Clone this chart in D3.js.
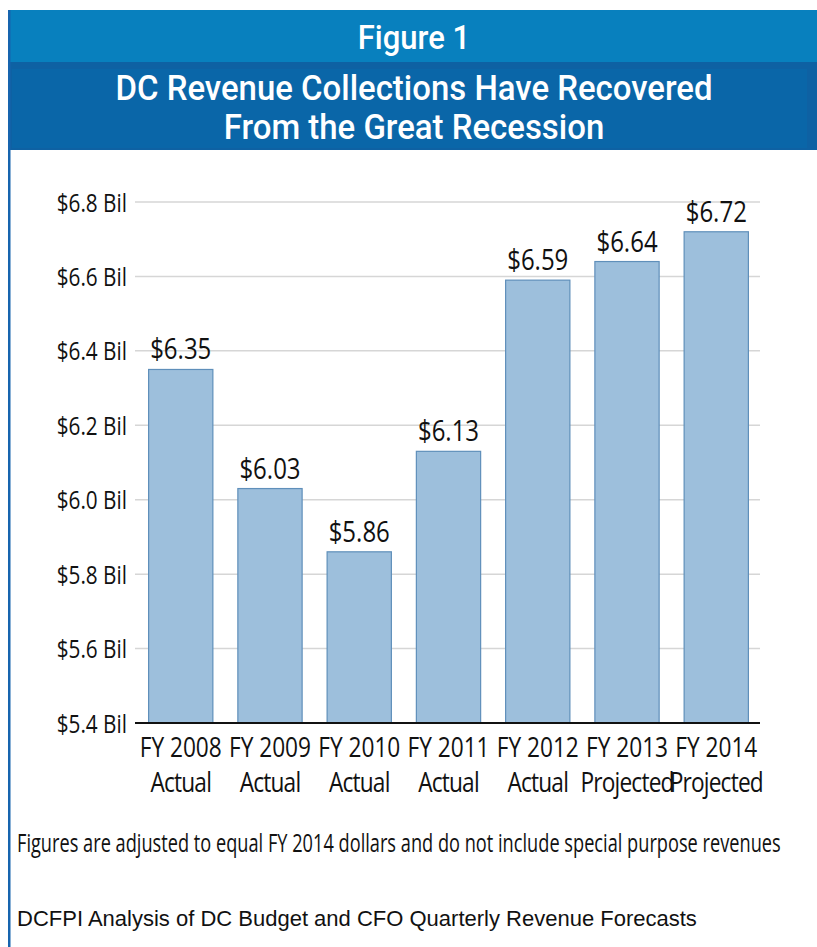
<!DOCTYPE html>
<html>
<head>
<meta charset="utf-8">
<script src="https://cdn.jsdelivr.net/npm/d3@7"></script>
<style>
  html, body { margin: 0; padding: 0; background: #ffffff; }
  svg { display: block; }
</style>
</head>
<body>
<svg id="chart" width="817" height="947"></svg>
<script>
// ---- data ----
const years = ["FY 2008", "FY 2009", "FY 2010", "FY 2011", "FY 2012", "FY 2013", "FY 2014"];
const status = ["Actual", "Actual", "Actual", "Actual", "Actual", "Projected", "Projected"];
const revenue = [6.35, 6.03, 5.86, 6.13, 6.59, 6.64, 6.72];
const yTicks = [5.4, 5.6, 5.8, 6.0, 6.2, 6.4, 6.6, 6.8];
const figureLabel = "Figure 1";
const titleLines = ["DC Revenue Collections Have Recovered", "From the Great Recession"];
const footnote = "Figures are adjusted to equal FY 2014 dollars and do not include special purpose revenues";
const source = "DCFPI Analysis of DC Budget and CFO Quarterly Revenue Forecasts";

const svg = d3.select("#chart");
const W = 817, H = 947;
const humanist = "'Open Sans', 'Noto Sans', sans-serif";

// ---- header ----
svg.append("rect").attr("x", 8).attr("y", 10).attr("width", W - 8).attr("height", 52).attr("fill", "#0880be");
svg.append("rect").attr("x", 8).attr("y", 62).attr("width", W - 8).attr("height", 88).attr("fill", "#0e61a3");
svg.append("rect").attr("x", 12).attr("y", 69).attr("width", W - 22).attr("height", 79).attr("fill", "#0a66a8");
// left border
svg.append("rect").attr("x", 8).attr("y", 10).attr("width", 2.5).attr("height", H - 10).attr("fill", "#1664ae");

svg.append("text").attr("transform", "translate(414,49) scale(0.94,1)")
  .attr("text-anchor", "middle").attr("fill", "#fff")
  .style("font-family", "Roboto, 'Open Sans', sans-serif").style("font-weight", 500).style("font-size", "33px")
  .text(figureLabel);

svg.selectAll("text.title").data(titleLines).join("text").attr("class", "title")
  .attr("transform", (d, i) => `translate(414,${100 + i * 39}) scale(0.915,1)`)
  .attr("text-anchor", "middle").attr("fill", "#fff")
  .style("font-family", "Roboto, 'Open Sans', sans-serif").style("font-weight", 500).style("font-size", "36px")
  .text(d => d);

// ---- scales ----
const x = d3.scaleBand().domain(years).range([137, 760]).paddingInner(0.28).paddingOuter(0.13);
const y = d3.scaleLinear().domain([5.4, 6.8]).range([723, 202]);

// gridlines
svg.append("g").selectAll("line").data(yTicks.filter(t => t > 5.4)).join("line")
  .attr("x1", 135).attr("x2", 760)
  .attr("y1", d => y(d)).attr("y2", d => y(d))
  .attr("stroke", "#d6d6d6").attr("stroke-width", 1.5);

// y axis labels
const yAxis = d3.axisLeft(y).tickValues(yTicks).tickSize(0).tickPadding(0)
  .tickFormat(d => "$" + d3.format(".1f")(d) + " Bil");
const gy = svg.append("g").attr("transform", "translate(127,0)").call(yAxis);
gy.select(".domain").remove();
gy.selectAll("text").attr("fill", "#111").attr("x", 0).attr("dy", "0.36em")
  .attr("transform", "scale(0.83,1)")
  .style("font-family", humanist).style("font-size", "25px");

// bars
svg.append("g").selectAll("rect").data(revenue).join("rect")
  .attr("x", (d, i) => x(years[i]))
  .attr("y", d => y(d))
  .attr("width", x.bandwidth())
  .attr("height", d => y(5.4) - y(d))
  .attr("fill", "#9dbfdc").attr("stroke", "#5f8fba").attr("stroke-width", 1.2);

// value labels
svg.append("g").selectAll("text").data(revenue).join("text")
  .attr("transform", (d, i) => `translate(${x(years[i]) + x.bandwidth() / 2},${y(d) - 10}) scale(0.8,1)`)
  .attr("text-anchor", "middle").attr("fill", "#111")
  .style("font-family", humanist).style("font-size", "30px")
  .text(d => "$" + d3.format(".2f")(d));

// baseline axis
const xAxis = d3.axisBottom(x).tickSize(0).tickPadding(0).tickFormat("");
const gx = svg.append("g").attr("transform", "translate(0," + y(5.4) + ")").call(xAxis);
gx.select(".domain").remove();
gx.append("line").attr("x1", 135).attr("x2", 760).attr("y1", 0).attr("y2", 0)
  .attr("stroke", "#111").attr("stroke-width", 2);

// category labels (two lines in one text)
const cat = svg.append("g").selectAll("text").data(years).join("text")
  .attr("transform", d => `translate(${x(d) + x.bandwidth() / 2},0) scale(0.81,1)`)
  .attr("text-anchor", "middle").attr("fill", "#111")
  .style("font-family", humanist).style("font-size", "28px");
cat.append("tspan").attr("x", 0).attr("y", 757).text(d => d);
cat.append("tspan").attr("x", 0).attr("y", 792).style("letter-spacing", "-1px")
  .text((d, i) => status[i]);

// footnote & source
const fn = svg.append("text").attr("x", 0).attr("y", 0).attr("fill", "#111")
  .style("font-family", humanist).style("font-size", "25px").text(footnote);
const fnLen = fn.node().getComputedTextLength();
fn.attr("transform", `translate(17,852) scale(${764 / fnLen},1)`);

svg.append("text").attr("x", 17).attr("y", 926).attr("fill", "#111")
  .style("font-family", "'Liberation Sans', Arial, sans-serif").style("font-size", "22px").text(source);
</script>
</body>
</html>
